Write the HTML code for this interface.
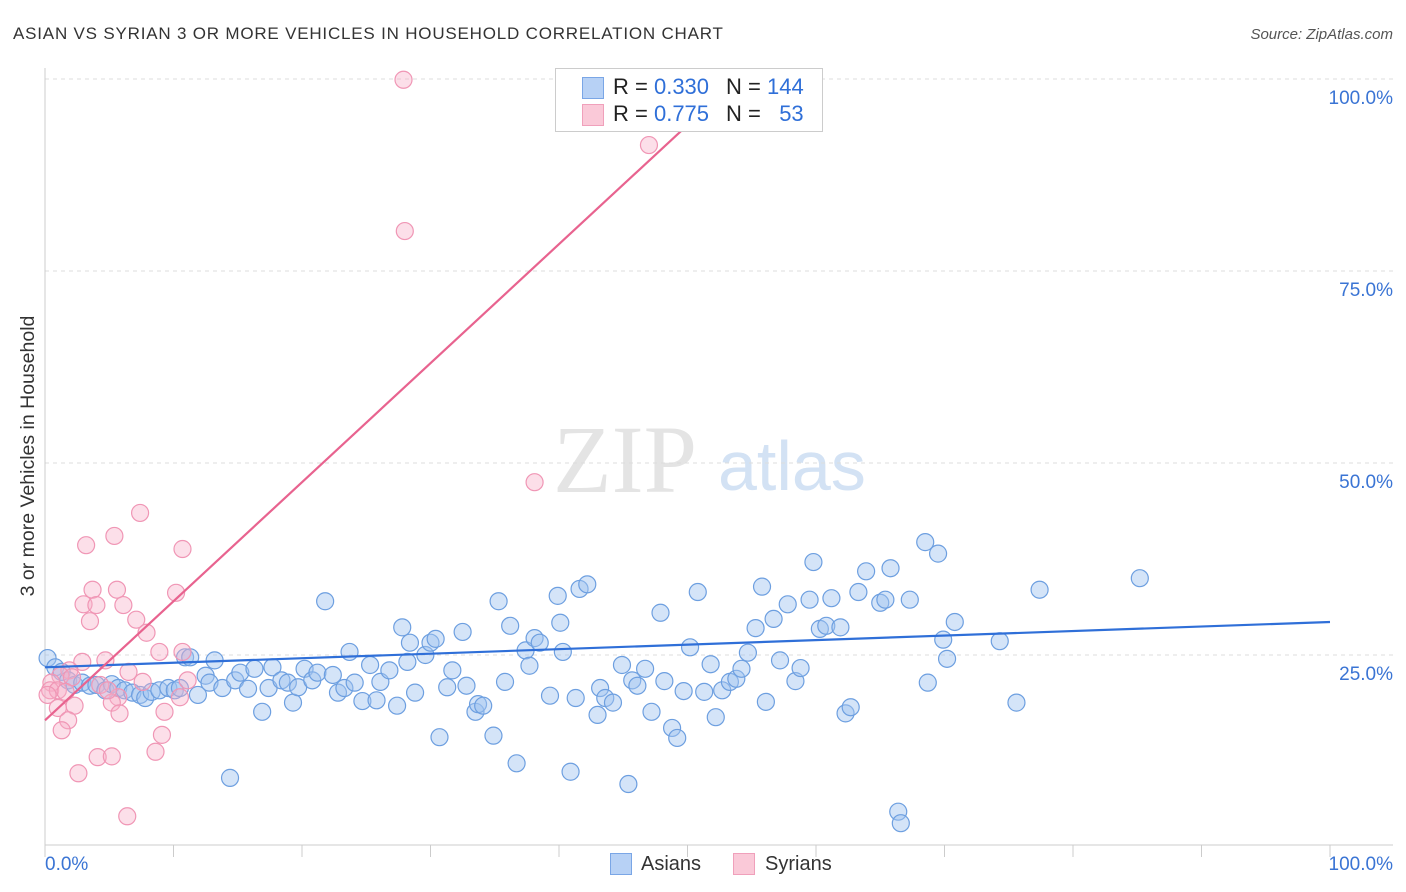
<!DOCTYPE html>
<html><head><meta charset="utf-8"><style>
body{margin:0;background:#fff;font-family:"Liberation Sans",sans-serif;}
#c{position:relative;width:1406px;height:892px;overflow:hidden;}
</style></head><body>
<div id="c">
<svg id="s" width="1406" height="892" xmlns="http://www.w3.org/2000/svg">
<text x="13" y="39" font-size="17" letter-spacing="0.8" fill="#333">ASIAN VS SYRIAN 3 OR MORE VEHICLES IN HOUSEHOLD CORRELATION CHART</text>
<text x="1393" y="39" font-size="15" fill="#555" font-style="italic" text-anchor="end">Source: ZipAtlas.com</text>
<text transform="translate(34,456) rotate(-90)" font-size="19.5" fill="#333" text-anchor="middle">3 or more Vehicles in Household</text>
<g><text x="553" y="492" font-size="96" font-family="Liberation Serif,serif" fill="#e4e4e4">ZIP</text><text x="718" y="490" font-size="70" fill="#d3e2f4">atlas</text></g>
<g id="grid"></g><g id="pts"></g><g id="lines"></g>
</svg>
<div style="position:absolute;left:555px;top:68px;width:266px;height:62px;border:1px solid #ccc;background:#fff;font-size:22px;color:#222;">
 <div style="position:absolute;left:26px;top:8px;width:20px;height:20px;background:#b7d1f5;border:1px solid #7aa6e6"></div>
 <div style="position:absolute;left:57px;top:5px">R = <span style="color:#2f6fd8">0.330</span></div>
 <div style="position:absolute;left:170px;top:5px">N = <span style="color:#2f6fd8">144</span></div>
 <div style="position:absolute;left:26px;top:35px;width:20px;height:20px;background:#fac9d8;border:1px solid #f0a0bb"></div>
 <div style="position:absolute;left:57px;top:32px">R = <span style="color:#2f6fd8"> 0.775</span></div>
 <div style="position:absolute;left:170px;top:32px">N = <span style="color:#2f6fd8">&nbsp;&nbsp;53</span></div>
</div>
<div style="position:absolute;top:853px;left:0;font-size:20px;color:#333">
 <div style="position:absolute;left:610px;top:0;width:20px;height:20px;background:#b7d1f5;border:1px solid #7aa6e6"></div>
 <div style="position:absolute;left:641px;top:0">Asians</div>
 <div style="position:absolute;left:733px;top:0;width:20px;height:20px;background:#fac9d8;border:1px solid #f0a0bb"></div>
 <div style="position:absolute;left:765px;top:0">Syrians</div>
</div>
</div>
<script>
const asianX=[0.2,0.8,1.3,1.8,2.3,2.9,3.5,4.0,4.7,5.2,5.7,6.2,6.8,7.4,7.8,8.3,8.9,9.6,10.1,10.5,10.9,11.3,11.9,12.5,12.8,13.2,13.8,14.8,15.2,15.8,16.3,16.9,17.4,17.7,18.4,18.9,19.3,19.7,20.2,20.8,21.2,21.8,22.4,22.8,23.3,23.7,24.1,24.7,25.3,25.8,26.1,26.8,27.4,27.8,28.2,28.4,28.8,29.6,30.0,30.4,30.7,31.3,31.7,32.5,32.8,33.5,33.7,34.1,34.9,35.3,35.8,36.2,36.7,37.4,37.7,38.1,38.5,39.3,39.9,40.3,40.9,41.3,41.6,42.2,43.2,43.0,43.6,44.2,44.9,45.4,45.7,46.1,46.7,47.2,47.9,48.2,48.8,49.2,49.7,50.2,50.8,51.3,51.8,52.2,52.7,53.3,53.8,54.2,54.7,55.3,55.8,56.1,56.7,57.2,57.8,58.4,58.8,59.5,59.8,60.3,60.8,61.2,61.9,62.3,62.7,63.3,63.9,65.0,65.4,65.8,66.4,66.6,67.3,68.5,68.7,69.5,69.9,70.2,70.8,74.3,75.6,77.4,85.2,14.4,40.1];
const asianY=[24.6,23.4,22.8,21.7,21.1,21.4,21.0,21.1,20.4,21.2,20.7,20.4,20.1,19.8,19.4,20.2,20.4,20.7,20.4,20.7,24.7,24.7,19.8,22.3,21.4,24.3,20.7,21.7,22.7,20.6,23.2,17.6,20.7,23.4,21.7,21.4,18.8,20.8,23.2,21.7,22.7,32.0,22.4,20.1,20.7,25.4,21.4,19.0,23.7,19.1,21.5,23.0,18.4,28.6,24.1,26.6,20.1,25.0,26.6,27.1,14.3,20.8,23.0,28.0,21.0,17.6,18.6,18.4,14.5,32.0,21.5,28.8,10.9,25.6,23.6,27.2,26.6,19.7,32.7,25.4,9.8,19.4,33.6,34.2,20.7,17.2,19.4,18.8,23.7,8.2,21.7,21.0,23.2,17.6,30.5,21.6,15.5,14.2,20.3,26.0,33.2,20.2,23.8,16.9,20.4,21.5,21.9,23.2,25.3,28.5,33.9,18.9,29.7,24.3,31.6,21.6,23.3,32.2,37.1,28.4,28.8,32.4,28.6,17.4,18.2,33.2,35.9,31.8,32.2,36.3,4.6,3.1,32.2,39.7,21.4,38.2,27.0,24.5,29.3,26.8,18.8,33.5,35.0,9.0,29.2];
const syrX=[27.9,47.0,28.0,38.1,7.4,5.4,3.2,10.7,10.2,3.7,5.6,3.0,4.0,6.1,3.5,7.1,7.9,10.7,8.9,4.7,2.9,6.5,1.9,1.2,2.1,0.5,4.3,0.4,1.0,1.6,0.2,5.7,7.6,11.1,5.2,2.3,1.0,9.3,5.8,1.8,1.3,9.1,4.1,5.2,8.6,2.6,6.4,10.5,4.9];
const syrY=[99.9,91.4,80.2,47.5,43.5,40.5,39.3,38.8,33.1,33.5,33.5,31.6,31.5,31.5,29.4,29.6,27.9,25.4,25.4,24.3,24.1,22.8,23.0,22.3,22.1,21.4,21.1,20.4,20.4,20.2,19.8,19.5,21.5,21.7,18.8,18.4,18.1,17.6,17.4,16.5,15.2,14.6,11.7,11.8,12.4,9.6,4.0,19.5,20.4];
const asianLine=[23.4,29.3];
const syrLine=[16.5,94.0];
const yTicks=[25,50,75,100];
const NS="http://www.w3.org/2000/svg";
const X=v=>45+v*12.85, Y=v=>847-v*7.68;
function mk(t,a,p){const e=document.createElementNS(NS,t);for(const k in a)e.setAttribute(k,a[k]);p.appendChild(e);return e;}
const g=document.getElementById('grid');
yTicks.forEach(t=>{
 const l=mk('line',{x1:45,x2:1393,y1:Y(t),y2:Y(t),stroke:'#ddd','stroke-dasharray':'4,4'},g);
 
 
 const tx=mk('text',{x:1393,y:Y(t)+25,'font-size':19,fill:'#3a74d4','text-anchor':'end'},g);
 tx.textContent=t.toFixed(1)+'%';
 
 
});
mk('line',{x1:45,x2:45,y1:68,y2:845,stroke:'#ccc'},g);
const xa=mk('line',{x1:45,x2:1393,y1:845,y2:845,stroke:'#ccc'},g);


for(let i=0;i<=10;i++)mk('line',{x1:X(i*10),x2:X(i*10),y1:845,y2:857,stroke:'#ccc'},g);
const x0=mk('text',{x:45,y:870,'font-size':19,fill:'#3a74d4'},g);x0.textContent='0.0%';


const x1=mk('text',{x:1393,y:870,'font-size':19,fill:'#3a74d4','text-anchor':'end'},g);x1.textContent='100.0%';


const p=document.getElementById('pts');
asianX.forEach((x,i)=>{const c=mk('circle',{cx:X(x),cy:Y(asianY[i]),r:8.5,fill:'rgba(160,196,240,0.45)',stroke:'#6d9fe0','stroke-width':1.2},p);
 
 });
syrX.forEach((x,i)=>{const c=mk('circle',{cx:X(x),cy:Y(syrY[i]),r:8.5,fill:'rgba(247,175,200,0.4)',stroke:'#f096b5','stroke-width':1.2},p);
 
 });
const L=document.getElementById('lines');
const bl=mk('line',{x1:X(0),y1:Y(asianLine[0]),x2:X(100),y2:Y(asianLine[1]),stroke:'#2f6fd8','stroke-width':2.2},L);


const pl=mk('line',{x1:X(0),y1:Y(syrLine[0]),x2:X(50),y2:Y(syrLine[1]),stroke:'#e8638f','stroke-width':2.2},L);


</script>
</body></html>
